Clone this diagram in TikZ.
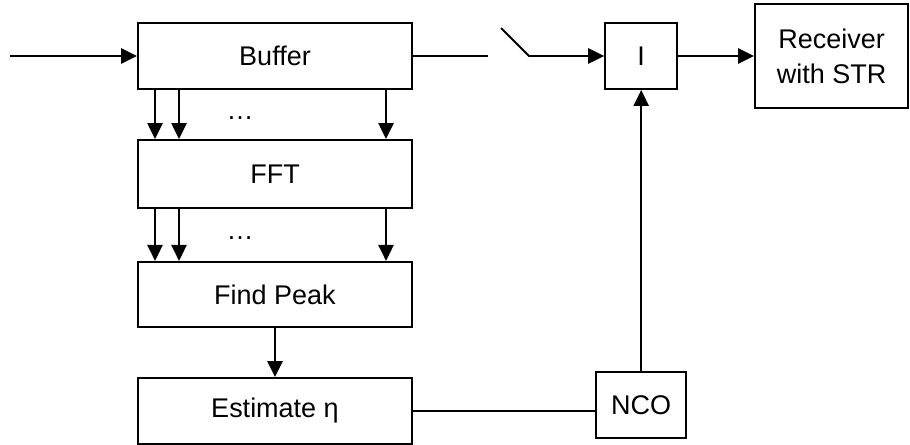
\documentclass[tikz,border=0pt]{standalone}
\usepackage{fontspec}
\setmainfont{Liberation Sans}
\usetikzlibrary{arrows.meta,positioning}

\begin{document}
\begin{tikzpicture}[line width=1.4pt, >={Triangle[length=0.4cm,width=0.38cm]}, font=\fontsize{19.2}{24.9}\selectfont]
   \useasboundingbox (0,0) rectangle (22.75,-11.125);
   \begin{scope}[every node/.style={draw,rectangle,minimum height=1.65cm,inner sep=0pt}]
    \node (buffer) at (6.875,-1.4) [minimum width=6.85cm] {Buffer};
    \node (fft) at (6.875,-4.35) [minimum width=6.85cm,minimum height=1.7cm] {FFT};
    \node (peak) at (6.875,-7.36) [minimum width=6.85cm,minimum height=1.625cm] {Find Peak};
    \node (est) at (6.875,-10.275) [minimum width=6.85cm] {Estimate η};
    \node (interp) at (16.03,-1.4) [minimum width=1.8cm] {I};
    \node (rx) at (20.79,-1.4) [minimum width=3.83cm,minimum height=2.6cm,align=center] {Receiver\\with STR};
    \node (nco) at (16.03,-10.125) [minimum width=2.25cm] {NCO};
   \end{scope}
   \node (dots1) at (6.0,-2.95) {…};
   \node (dots2) at (6.0,-5.95) {…};
   % input and switch
   \coordinate (in) at (0.25,-1.4);
   \coordinate (sw1) at (12.2,-1.4);
   \coordinate (sw2) at (12.525,-0.7);
   \coordinate (sw3) at (13.225,-1.4);
   \draw[->] (in) -- (buffer);
   \draw (buffer.east) -- (sw1);
   \draw[->] (sw2) -- (sw3) -- (interp.west);
   \draw[->] (interp) -- (rx);
   % parallel outputs
   \foreach \dx in {0.45,1.05,6.225} {
    \draw[->] ([xshift=\dx cm]buffer.south west) -- ([xshift=\dx cm]fft.north west);
    \draw[->] ([xshift=\dx cm]fft.south west) -- ([xshift=\dx cm]peak.north west);
   }
   \draw[->] (peak) -- (est);
   \draw (est.east) -- (est.east -| nco.west);
   \draw[->] (nco) -- (interp);
\end{tikzpicture}
\end{document}
